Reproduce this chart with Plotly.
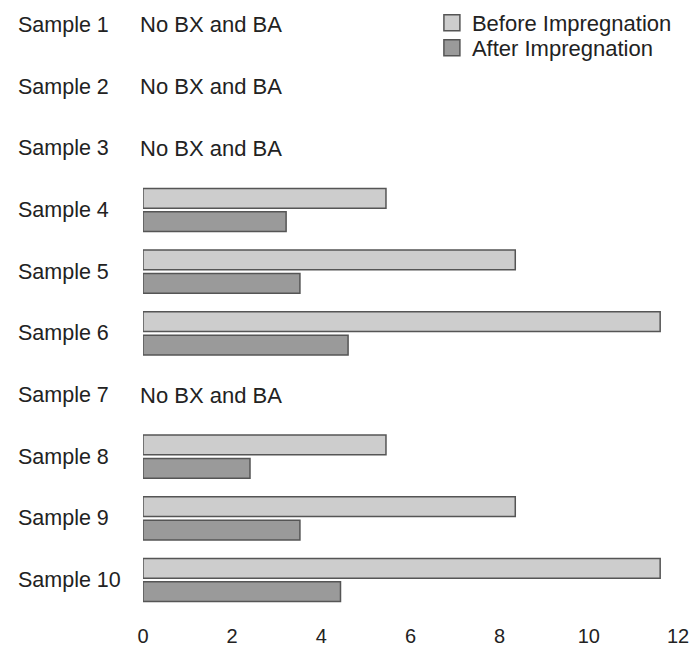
import plotly.graph_objects as go

samples = ["Sample 1", "Sample 2", "Sample 3", "Sample 4", "Sample 5",
           "Sample 6", "Sample 7", "Sample 8", "Sample 9", "Sample 10"]
before = [None, None, None, 5.45, 8.35, 11.6, None, 5.45, 8.35, 11.6]
after = [None, None, None, 3.21, 3.52, 4.6, None, 2.4, 3.52, 4.43]
no_data_label = "No BX and BA"
x_ticks = [0, 2, 4, 6, 8, 10, 12]

FONT = "Liberation Sans, Arial, sans-serif"
TXT = "#222222"
C_BEFORE = "#cdcdcd"
C_AFTER = "#9a9a9a"
EDGE = "#555555"

fig = go.Figure()
fig.add_trace(go.Bar(
    name="Before Impregnation", y=samples, x=before, orientation="h",
    width=0.32, offset=-0.35, showlegend=False,
    marker=dict(color=C_BEFORE, line=dict(color=EDGE, width=1.5)),
))
fig.add_trace(go.Bar(
    name="After Impregnation", y=samples, x=after, orientation="h",
    width=0.32, offset=0.03, showlegend=False,
    marker=dict(color=C_AFTER, line=dict(color=EDGE, width=1.5)),
))
# legend entries (bigger square swatches)
fig.add_trace(go.Scatter(
    name="Before Impregnation", x=[None], y=[None], mode="markers",
    marker=dict(symbol="square", size=16, color=C_BEFORE, line=dict(color=EDGE, width=1.5)),
    legend="legend",
))
fig.add_trace(go.Scatter(
    name="After Impregnation", x=[None], y=[None], mode="markers",
    marker=dict(symbol="square", size=16, color=C_AFTER, line=dict(color=EDGE, width=1.5)),
    legend="legend2",
))

annotations = []
for s, b in zip(samples, before):
    annotations.append(dict(
        x=-0.237, xref="paper", y=s, yref="y", text=s, showarrow=False,
        xanchor="left", yanchor="middle", font=dict(size=21.5, color=TXT, family=FONT)))
    if b is None:
        annotations.append(dict(
            x=0, xref="x", y=s, yref="y", text=no_data_label, showarrow=False,
            xanchor="left", yanchor="middle", xshift=-5,
            font=dict(size=22, color=TXT, family=FONT)))

leg_common = dict(xanchor="left", yanchor="middle", bgcolor="rgba(0,0,0,0)",
                  font=dict(size=22, color=TXT, family=FONT), itemwidth=30)

fig.update_layout(
    width=694, height=647,
    margin=dict(l=143, r=16, t=10, b=25, autoexpand=False),
    paper_bgcolor="white", plot_bgcolor="white",
    font=dict(family=FONT, size=21, color=TXT),
    barmode="overlay",
    showlegend=True,
    legend=dict(x=0.54, y=0.979, **leg_common),
    legend2=dict(x=0.54, y=0.938, **leg_common),
    annotations=annotations,
    xaxis=dict(range=[0, 12], tickvals=x_ticks, showgrid=False, zeroline=False,
               showline=False, ticks="", ticklabeloverflow="allow",
               tickfont=dict(size=20, color=TXT)),
    yaxis=dict(categoryorder="array", categoryarray=samples,
               range=[9.681, -0.243], showticklabels=False, showgrid=False,
               zeroline=False, showline=False, ticks=""),
)

fig.write_html("out.html",
               config={"displayModeBar": False, "staticPlot": True},
               post_script="document.body.style.margin='0';document.body.style.overflow='hidden';")
